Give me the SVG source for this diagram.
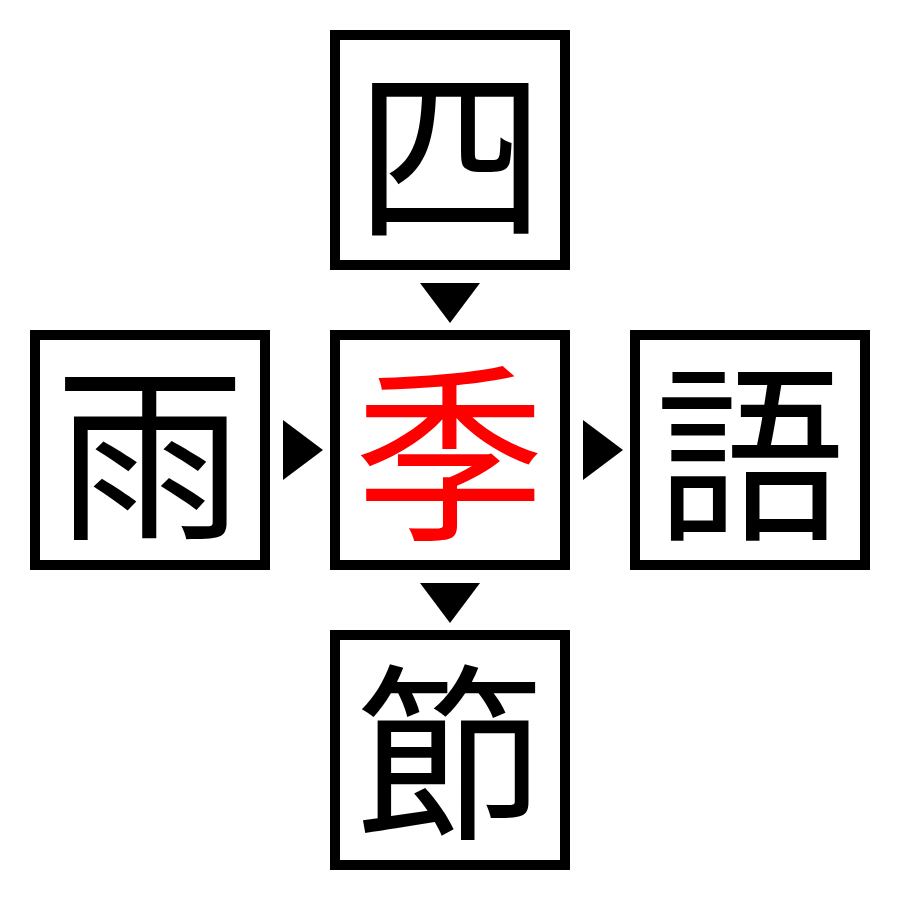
<svg xmlns="http://www.w3.org/2000/svg" width="900" height="900" viewBox="0 0 900 900">
<style>
.box{fill:#fff;stroke:#000;stroke-width:10}
.t{font-family:"Noto Sans CJK JP","Noto Sans CJK SC",sans-serif;font-size:190px;text-anchor:middle;dominant-baseline:central;fill:#000}
.arr{fill:#000}
</style>
<rect width="900" height="900" fill="#fff"/>
<g id="n-top"><rect class="box" x="335" y="35" width="230" height="230"/><text class="t" x="450" y="142">四</text></g>
<g id="n-left"><rect class="box" x="35" y="335" width="230" height="230"/><text class="t" x="150" y="442">雨</text></g>
<g id="n-center"><rect class="box" x="335" y="335" width="230" height="230"/><text class="t" x="450" y="442" style="fill:#f00">季</text></g>
<g id="n-right"><rect class="box" x="635" y="335" width="230" height="230"/><text class="t" x="750" y="442">語</text></g>
<g id="n-bottom"><rect class="box" x="335" y="635" width="230" height="230"/><text class="t" x="450" y="742">節</text></g>
<g id="connectors">
<polygon class="arr" points="420,283 480,283 450,323"/>
<polygon class="arr" points="420,583 480,583 450,623"/>
<polygon class="arr" points="283,420 283,480 323,450"/>
<polygon class="arr" points="583,420 583,480 623,450"/>
</g>
</svg>
